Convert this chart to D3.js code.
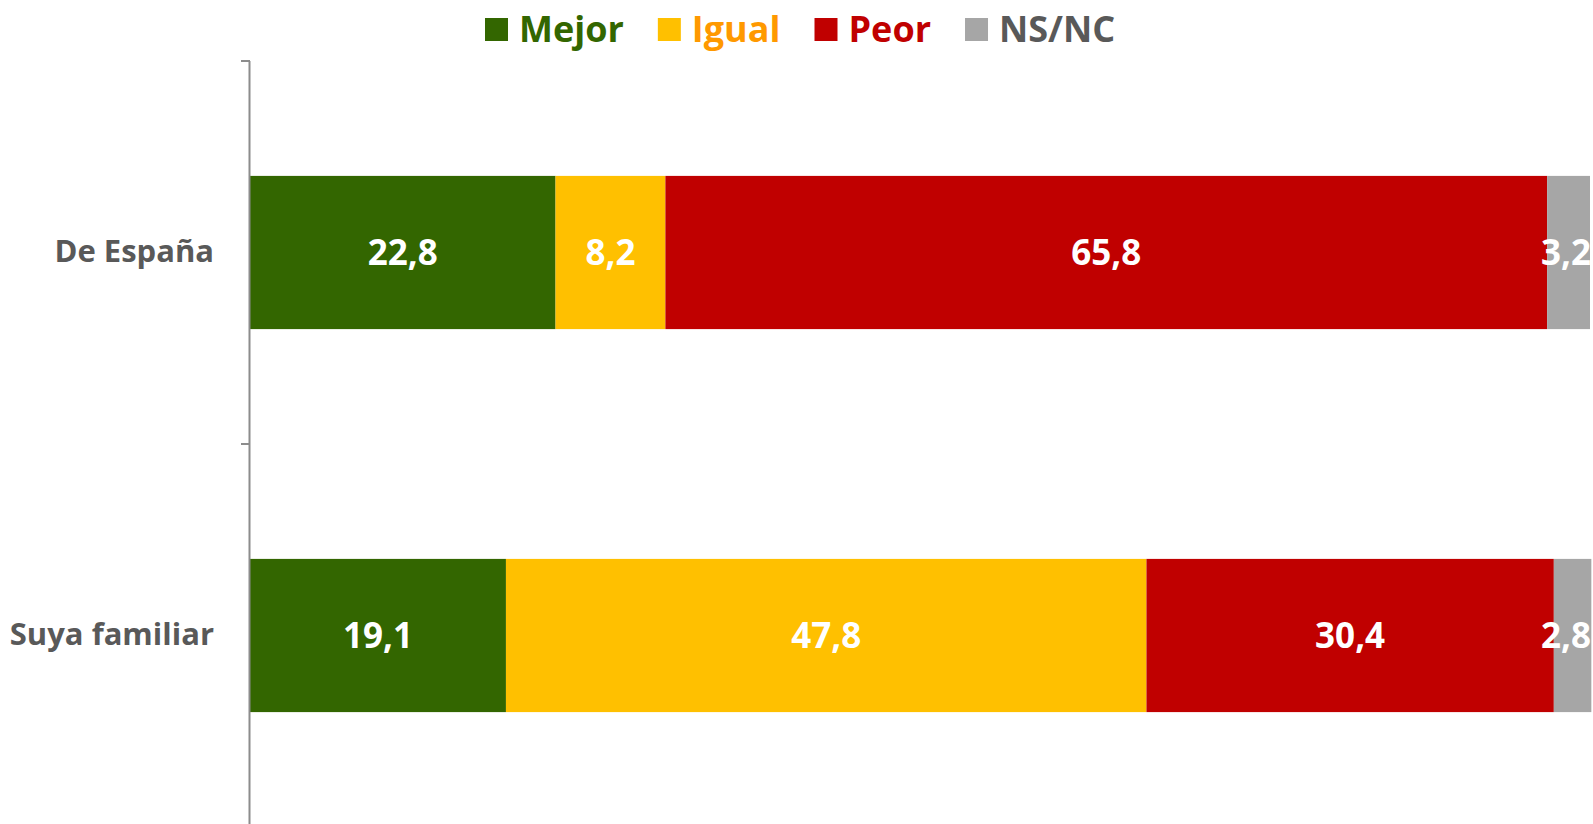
<!DOCTYPE html>
<html>
<head>
<meta charset="utf-8">
<script src="https://cdn.jsdelivr.net/npm/d3@7"></script>
<style>
  html, body { margin: 0; padding: 0; background: #fff; }
  svg { display: block; font-family: "Open Sans", sans-serif; }
</style>
</head>
<body>
<svg id="chart" width="1593" height="824"></svg>
<script>
// --- data ---
const categories = ["De España", "Suya familiar"];
const seriesNames = ["Mejor", "Igual", "Peor", "NS/NC"];
const mejor = [22.8, 19.1];
const igual = [8.2, 47.8];
const peor = [65.8, 30.4];
const nsnc = [3.2, 2.8];

const fills = ["#336600", "#FFC000", "#C00000", "#A6A6A6"];
const legendText = ["#336600", "#FF9900", "#C00000", "#595959"];

const rows = categories.map((c, i) => ({
  cat: c, Mejor: mejor[i], Igual: igual[i], Peor: peor[i], "NS/NC": nsnc[i]
}));

const svg = d3.select("#chart");
const W = 1593;
const left = 250, right = 1590;

const x = d3.scaleLinear().domain([0, 100]).range([left, right]);
const y = d3.scaleBand().domain(categories).range([61, 827])
  .paddingInner(0.6).paddingOuter(0.3);

const stacked = d3.stack().keys(seriesNames)(rows);

// --- bars ---
const layers = svg.append("g").selectAll("g")
  .data(stacked).enter().append("g")
  .attr("fill", (d, i) => fills[i]);

layers.selectAll("rect")
  .data(d => d)
  .enter().append("rect")
  .attr("x", d => x(d[0]))
  .attr("width", d => x(d[1]) - x(d[0]))
  .attr("y", d => y(d.data.cat))
  .attr("height", y.bandwidth());

// value labels, kept inside the picture at the right edge
layers.selectAll("text")
  .data(d => d.map(v => ({ v, key: d.key })))
  .enter().append("text")
  .attr("y", d => y(d.v.data.cat) + y.bandwidth() / 2)
  .attr("dy", "0.36em")
  .attr("text-anchor", "middle")
  .attr("fill", "#fff")
  .attr("font-weight", 700)
  .attr("font-size", 35)
  .text(d => d3.format(".1f")(d.v.data[d.key]).replace(".", ","))
  .attr("x", function(d) {
    const cx = (x(d.v[0]) + x(d.v[1])) / 2;
    const half = this.getComputedTextLength() / 2;
    return Math.min(cx, W - 2 - half);
  });

// --- axis ---
const yAxis = svg.append("g")
  .attr("transform", `translate(${left},0)`)
  .call(d3.axisLeft(y).tickSize(0).tickPadding(36));
yAxis.select(".domain").remove();
yAxis.selectAll("text")
  .attr("font-family", "Open Sans, sans-serif")
  .attr("font-size", 31)
  .attr("font-weight", 700)
  .attr("fill", "#595959");

const step = y.step();
const bounds = d3.range(categories.length + 1).map(i => y.range()[0] + i * step);
svg.append("line")
  .attr("x1", left - 0.5).attr("x2", left - 0.5)
  .attr("y1", bounds[0]).attr("y2", 824)
  .attr("stroke", "#8c8c8c").attr("stroke-width", 2);
svg.append("g").selectAll("line")
  .data(bounds.slice(0, -1))
  .enter().append("line")
  .attr("x1", left - 9).attr("x2", left)
  .attr("y1", d => d).attr("y2", d => d)
  .attr("stroke", "#8c8c8c").attr("stroke-width", 2);

// --- legend ---
const legend = svg.append("g").attr("transform", "translate(0,29)");
let lx = 485;
seriesNames.forEach((name, i) => {
  legend.append("rect")
    .attr("x", lx).attr("y", -11)
    .attr("width", 23).attr("height", 23)
    .attr("fill", fills[i]);
  const t = legend.append("text")
    .attr("x", lx + 34).attr("y", 0)
    .attr("dy", "0.36em")
    .attr("font-size", 36)
    .attr("font-weight", 700)
    .attr("fill", legendText[i])
    .text(name);
  lx += 34 + t.node().getComputedTextLength() + 34;
});
</script>
</body>
</html>
